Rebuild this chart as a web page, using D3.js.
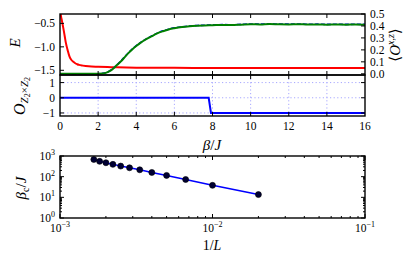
<!DOCTYPE html>
<html><head><meta charset="utf-8">
<script src="https://cdn.jsdelivr.net/npm/d3@7"></script>
<style>
html,body{margin:0;padding:0;background:#fff;}
svg{display:block;font-family:"Liberation Serif","DejaVu Serif",serif;}
</style></head><body>
<svg id="c" width="415" height="262"></svg>
<script>
// ---------- data ----------
const betaE  = [0, 0.05, 0.1, 0.15, 0.2, 0.25, 0.3, 0.35, 0.4, 0.5, 0.6, 0.7, 0.8, 0.9, 1.0, 1.2, 1.5, 2.0, 2.5, 3.0, 4.0, 5, 6, 8, 10, 12, 14, 16];
const energy = [-0.15, -0.34, -0.44, -0.55, -0.66, -0.78, -0.90, -0.99, -1.07, -1.21, -1.28, -1.32, -1.35, -1.37, -1.385, -1.40, -1.415, -1.425, -1.432, -1.437, -1.443, -1.446, -1.448, -1.449, -1.45, -1.45, -1.45, -1.45];

const betaO   = [0, 1.0, 1.8, 2.0, 2.2, 2.4, 2.6, 2.8, 3.0, 3.2, 3.4, 3.6, 3.8, 4.0, 4.2, 4.5, 4.8, 5.1, 5.4, 5.7, 6.0, 6.4, 6.8, 7.2, 7.6, 8.0, 8.5, 9.0, 9.5, 10.0, 10.5, 11.0, 11.5, 12.0, 12.5, 13.0, 13.5, 14.0, 14.5, 15.0, 15.5, 16.0];
const orderXZ = [0, 0, 0, 0.001, 0.003, 0.008, 0.022, 0.045, 0.075, 0.105, 0.14, 0.175, 0.205, 0.232, 0.256, 0.287, 0.313, 0.338, 0.356, 0.371, 0.381, 0.391, 0.397, 0.401, 0.404, 0.406, 0.409, 0.408, 0.411, 0.414, 0.413, 0.416, 0.414, 0.413, 0.415, 0.412, 0.413, 0.411, 0.412, 0.411, 0.412, 0.411];
const orderXZb = [0, 0, 0, 0.001, 0.004, 0.009, 0.023, 0.047, 0.077, 0.108, 0.143, 0.178, 0.208, 0.235, 0.259, 0.290, 0.316, 0.340, 0.359, 0.373, 0.384, 0.393, 0.400, 0.404, 0.406, 0.409, 0.411, 0.410, 0.413, 0.416, 0.415, 0.418, 0.416, 0.415, 0.417, 0.414, 0.415, 0.413, 0.414, 0.413, 0.414, 0.413];

const betaZ  = [0, 7.8, 7.92, 16];
const orderZ = [0, 0, -1, -1];

const invL  = [1/600, 1/550, 1/500, 1/450, 1/400, 1/350, 1/300, 1/250, 1/200, 1/150, 1/100, 1/50];
const betaC = [680, 551, 471, 394, 325, 269, 215, 160, 115, 73, 38, 13.6];

const xTickVals  = [0, 2, 4, 6, 8, 10, 12, 14, 16];
const eTickVals  = [-0.5, -1.0, -1.5];
const oTickVals  = [0, 0.1, 0.2, 0.3, 0.4, 0.5];
const zTickVals  = [1, 0, -1];
const invLMajor  = [1e-3, 1e-2, 1e-1];
const invLExp    = ["−3", "−2", "−1"];
const betaCMajor = [1, 10, 100, 1000];
const betaCExp   = ["0", "1", "2", "3"];

// ---------- layout ----------
const svg = d3.select("#c");
const X0 = 60, X1 = 365;
const T0 = 14, T1 = 75, M1 = 116, B0 = 156, B1 = 218;
const TL = 4, TLm = 2;
const fs = 11.5;

const x  = d3.scaleLinear().domain([0, 16]).range([X0, X1]);
const yE = d3.scaleLinear().domain([-1.6, -0.3]).range([T1, T0]);
const yO = d3.scaleLinear().domain([-0.01, 0.5]).range([T1, T0]);
const yZ = d3.scaleLinear().domain([-1.2, 1.5]).range([M1, T1]);
const xL = d3.scaleLog().domain([1e-3, 1e-1]).range([X0, X1]);
const yL = d3.scaleLog().domain([1, 1000]).range([B1, B0]);

const defs = svg.append("defs");
defs.append("clipPath").attr("id", "clipTop").append("rect")
  .attr("x", X0).attr("y", T0).attr("width", X1 - X0).attr("height", T1 - T0);
defs.append("clipPath").attr("id", "clipMid").append("rect")
  .attr("x", X0).attr("y", T1).attr("width", X1 - X0).attr("height", M1 - T1);

function tickLine(g, x1, y1, x2, y2) {
  g.append("line").attr("x1", x1).attr("y1", y1).attr("x2", x2).attr("y2", y2)
    .attr("stroke", "#000").attr("stroke-width", 1);
}
function frame(y0, y1) {
  svg.append("rect").attr("x", X0).attr("y", y0).attr("width", X1 - X0).attr("height", y1 - y0)
    .attr("fill", "none").attr("stroke", "#000").attr("stroke-width", 1.4);
}

// ---------- middle panel grid ----------
const gGrid = svg.append("g").attr("stroke", "#a8a8ff").attr("stroke-width", 1).attr("stroke-dasharray", "1.2,2.4");
xTickVals.filter(v => v > 0 && v < 16).forEach(v => {
  gGrid.append("line").attr("x1", x(v)).attr("x2", x(v)).attr("y1", T1).attr("y2", M1);
});
zTickVals.forEach(v => {
  gGrid.append("line").attr("x1", X0).attr("x2", X1).attr("y1", yZ(v)).attr("y2", yZ(v));
});

// ---------- top panel curves ----------
const lineE = d3.line().x((d, i) => x(betaE[i])).y(d => yE(d)).curve(d3.curveMonotoneX);
svg.append("path").attr("clip-path", "url(#clipTop)").attr("d", lineE(energy))
  .attr("fill", "none").attr("stroke", "#ff0000").attr("stroke-width", 2);

const lineO = d3.line().x((d, i) => x(betaO[i])).y(d => yO(d)).curve(d3.curveMonotoneX);
svg.append("path").attr("clip-path", "url(#clipTop)").attr("d", lineO(orderXZb))
  .attr("fill", "none").attr("stroke", "#0000ff").attr("stroke-width", 1.6).attr("stroke-dasharray", "4,2");
svg.append("path").attr("clip-path", "url(#clipTop)").attr("d", lineO(orderXZ))
  .attr("fill", "none").attr("stroke", "#008000").attr("stroke-width", 2);

// ---------- middle panel curve ----------
const lineZ = d3.line().x((d, i) => x(betaZ[i])).y(d => yZ(d));
svg.append("path").attr("clip-path", "url(#clipMid)").attr("d", lineZ(orderZ))
  .attr("fill", "none").attr("stroke", "#0000ff").attr("stroke-width", 2);

// ---------- bottom panel ----------
const lineL = d3.line().x((d, i) => xL(invL[i])).y(d => yL(d));
svg.append("path").attr("d", lineL(betaC)).attr("fill", "none").attr("stroke", "#0000ff").attr("stroke-width", 1.5);
svg.append("g").selectAll("circle").data(betaC).join("circle")
  .attr("cx", (d, i) => xL(invL[i])).attr("cy", d => yL(d)).attr("r", 3)
  .attr("fill", "#000033").attr("stroke", "#000").attr("stroke-width", 0.6);

// ---------- ticks ----------
const gt = svg.append("g");
// x ticks top and middle panels
xTickVals.filter(v => v > 0 && v < 16).forEach(v => {
  const px = x(v);
  tickLine(gt, px, T0, px, T0 + TL);
  tickLine(gt, px, T1, px, T1 - TL);
  tickLine(gt, px, T1, px, T1 + TL);
  tickLine(gt, px, M1, px, M1 - TL);
});
eTickVals.forEach(v => tickLine(gt, X0, yE(v), X0 + TL, yE(v)));
oTickVals.forEach(v => tickLine(gt, X1, yO(v), X1 - TL, yO(v)));
zTickVals.forEach(v => {
  tickLine(gt, X0, yZ(v), X0 + TL, yZ(v));
  tickLine(gt, X1, yZ(v), X1 - TL, yZ(v));
});
// log ticks
invLMajor.forEach((v, k) => {
  const px = xL(v);
  tickLine(gt, px, B0, px, B0 + TL);
  tickLine(gt, px, B1, px, B1 - TL);
  if (k < invLMajor.length - 1) {
    for (let m = 2; m <= 9; m++) {
      const qx = xL(v * m);
      tickLine(gt, qx, B0, qx, B0 + TLm);
      tickLine(gt, qx, B1, qx, B1 - TLm);
    }
  }
});
betaCMajor.forEach((v, k) => {
  const py = yL(v);
  tickLine(gt, X0, py, X0 + TL, py);
  tickLine(gt, X1, py, X1 - TL, py);
  if (k < betaCMajor.length - 1) {
    for (let m = 2; m <= 9; m++) {
      const qy = yL(v * m);
      tickLine(gt, X0, qy, X0 + TLm, qy);
      tickLine(gt, X1, qy, X1 - TLm, qy);
    }
  }
});

frame(T0, T1);
frame(T1, M1);
frame(B0, B1);

// ---------- tick labels ----------
const fmtE = v => (v < 0 ? "−" : "") + Math.abs(v).toFixed(1);
const gl = svg.append("g").attr("font-size", fs).attr("fill", "#000");
eTickVals.forEach(v => gl.append("text").attr("x", X0 - 5).attr("y", yE(v)).attr("dy", "0.35em")
  .attr("text-anchor", "end").text(fmtE(v)));
oTickVals.forEach(v => gl.append("text").attr("x", X1 + 5).attr("y", yO(v)).attr("dy", "0.35em")
  .attr("text-anchor", "start").text(v.toFixed(1)));
zTickVals.forEach(v => gl.append("text").attr("x", X0 - 5).attr("y", yZ(v)).attr("dy", "0.35em")
  .attr("text-anchor", "end").text((v < 0 ? "−" : "") + Math.abs(v)));
xTickVals.forEach(v => gl.append("text").attr("x", x(v)).attr("y", M1 + 14)
  .attr("text-anchor", "middle").text(v));
invLMajor.forEach((v, k) => {
  const t = gl.append("text").attr("x", xL(v)).attr("y", B1 + 14).attr("text-anchor", "middle");
  t.append("tspan").text("10");
  t.append("tspan").attr("dy", -5).attr("font-size", 8).text(invLExp[k]);
});
betaCMajor.forEach((v, k) => {
  const t = gl.append("text").attr("x", X0 - 5).attr("y", yL(v) + 4).attr("text-anchor", "end");
  t.append("tspan").text("10");
  t.append("tspan").attr("dy", -5).attr("font-size", 8).text(betaCExp[k]);
});

// ---------- axis titles ----------
svg.append("text").attr("transform", "translate(20,43) rotate(-90)").attr("text-anchor", "middle")
  .attr("font-size", 15).attr("font-style", "italic").text("E");

const tO = svg.append("text").attr("transform", "translate(25,96) rotate(-90)").attr("text-anchor", "middle")
  .attr("font-size", 16);
tO.append("tspan").attr("font-style", "italic").text("O");
tO.append("tspan").attr("dy", 3).attr("font-size", 11).attr("font-style", "italic").text("Z");
tO.append("tspan").attr("dy", 2).attr("font-size", 8).text("2");
tO.append("tspan").attr("dy", -2).attr("font-size", 11).text("×");
tO.append("tspan").attr("font-size", 11).attr("font-style", "italic").text("Z");
tO.append("tspan").attr("dy", 2).attr("font-size", 8).text("2");

const tR = svg.append("text").attr("transform", "translate(400,45) rotate(-90)").attr("text-anchor", "middle")
  .attr("font-size", 15);
tR.append("tspan").text("⟨");
tR.append("tspan").attr("font-style", "italic").text("O");
tR.append("tspan").attr("dy", -6).attr("font-size", 10).attr("font-style", "italic").text("x,z");
tR.append("tspan").attr("dy", 6).text("⟩");

const tB = svg.append("text").attr("x", 212).attr("y", 150).attr("text-anchor", "middle").attr("font-size", 15);
tB.append("tspan").attr("font-style", "italic").text("β");
tB.append("tspan").text("/");
tB.append("tspan").attr("font-style", "italic").text("J");

const tC = svg.append("text").attr("transform", "translate(26,188) rotate(-90)").attr("text-anchor", "middle")
  .attr("font-size", 15);
tC.append("tspan").attr("font-style", "italic").text("β");
tC.append("tspan").attr("dy", 3).attr("font-size", 10).text("c");
tC.append("tspan").attr("dy", -3).text("/");
tC.append("tspan").attr("font-style", "italic").text("J");

const tL = svg.append("text").attr("x", 212).attr("y", 250).attr("text-anchor", "middle").attr("font-size", 14);
tL.append("tspan").text("1/");
tL.append("tspan").attr("font-style", "italic").text("L");
</script>
</body></html>
